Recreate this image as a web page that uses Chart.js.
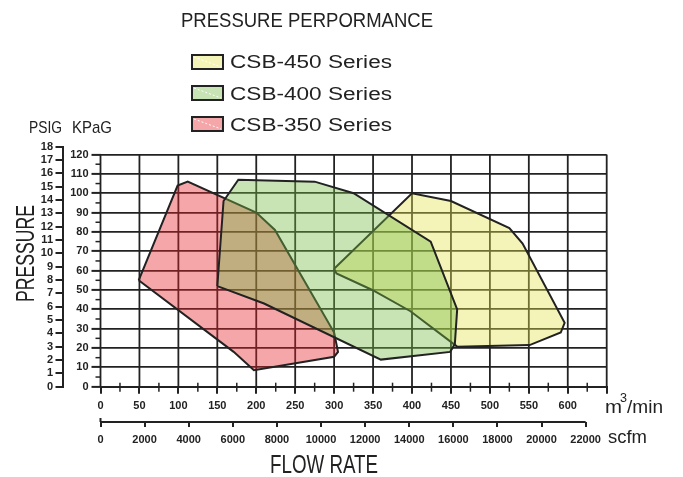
<!DOCTYPE html>
<html>
<head>
<meta charset="utf-8">
<title>Pressure Performance</title>
<script src="https://cdn.jsdelivr.net/npm/chart.js@4.4.0/dist/chart.umd.min.js"></script>
<style>
  html, body { margin: 0; padding: 0; background: #fff; }
  #wrap { width: 683px; height: 477px; }
</style>
</head>
<body>
<div id="wrap"><canvas id="chart" width="683" height="477"></canvas></div>
<script>
// outline corners: flow in m3/min, pressure in kPaG
const seriesNames = ['CSB-450 Series', 'CSB-400 Series', 'CSB-350 Series'];

const csb450Flow = [300, 400, 450, 525, 542, 596, 591, 551, 458, 398, 349, 303, 300];
const csb450Kpa  = [61, 100, 96, 82, 74, 33, 28, 21.5, 20.7, 39, 50, 58.5, 61];

const csb400Flow = [150, 158, 177, 275, 325, 424, 458, 455, 449, 360, 210, 150];
const csb400Kpa  = [52, 96, 107, 106, 100, 75, 40, 22, 18, 14, 43, 52];

const csb350Flow = [49, 99, 112, 200, 224, 300, 305, 300, 197, 171, 49];
const csb350Kpa  = [55, 104, 106, 90, 81, 28, 18, 15.5, 8.5, 18, 55];

const flowTicks = [0, 50, 100, 150, 200, 250, 300, 350, 400, 450, 500, 550, 600];
const scfmTicks = [0, 2000, 4000, 6000, 8000, 10000, 12000, 14000, 16000, 18000, 20000, 22000];
const kpaTicks  = [0, 10, 20, 30, 40, 50, 60, 70, 80, 90, 100, 110, 120];
const psiTicks  = [0, 1, 2, 3, 4, 5, 6, 7, 8, 9, 10, 11, 12, 13, 14, 15, 16, 17, 18];

const FLOW_MAX = 650;
const KPA_PER_PSI = 6.894757;
const SCFM_PER_M3 = 35.3147;
const INK = '#222';
const TICK_FONT = { family: "'Liberation Sans Narrow', 'Liberation Sans', sans-serif", size: 11, weight: 'bold' };
const CAD_FONT = "'Liberation Sans Narrow', 'Liberation Sans', sans-serif";

function poly(label, flow, kpa, color, order) {
    return {
        label: label,
        order: order,
        data: flow.map((f, i) => ({ x: f, y: kpa[i] })),
        fill: 'shape',
        tension: 0,
        backgroundColor: color,
        borderColor: INK,
        borderWidth: 2,
        pointRadius: 0,
        pointHoverRadius: 0
    };
}

// draw text squeezed to a given width (plotter style lettering)
function fitText(ctx, str, left, base, width, size) {
    ctx.save();
    ctx.font = size + 'px ' + CAD_FONT;
    const w = ctx.measureText(str).width;
    ctx.translate(left, base);
    ctx.scale(width / w, 1);
    ctx.textAlign = 'left';
    ctx.textBaseline = 'alphabetic';
    ctx.fillStyle = INK;
    ctx.fillText(str, 0, 0);
    ctx.restore();
}

function seg(ctx, x1, y1, x2, y2) {
    ctx.beginPath();
    ctx.moveTo(x1, y1);
    ctx.lineTo(x2, y2);
    ctx.stroke();
}

const extras = {
    id: 'extras',
    beforeDatasetsDraw(chart) {
        const { ctx, scales } = chart;
        const x = scales.x, y = scales.y, x2 = scales.x2;
        const y0 = y.getPixelForValue(0), yTop = y.getPixelForValue(120);
        const x0 = x.getPixelForValue(0);
        ctx.save();
        ctx.strokeStyle = INK;
        ctx.lineWidth = 1.8;
        // vertical grid stops at the 120 kPa line
        for (let v = 0; v <= FLOW_MAX; v += 50) {
            const px = x.getPixelForValue(v);
            seg(ctx, px, y0, px, yTop);
        }
        // minor ticks
        ctx.lineWidth = 1.5;
        for (let v = 25; v < FLOW_MAX; v += 50) {
            const px = x.getPixelForValue(v);
            seg(ctx, px, y0 - 4, px, y0 + 5);
        }
        for (let v = 5; v < 120; v += 10) {
            const py = y.getPixelForValue(v);
            seg(ctx, x0 - 5, py, x0, py);
        }
        // scfm axis line only runs to 22000
        ctx.lineWidth = 2;
        const sx0 = x2.getPixelForValue(0), sx1 = x2.getPixelForValue(22000);
        seg(ctx, sx0, x2.top, sx1, x2.top);
        seg(ctx, sx0, x2.top - 4, sx0, x2.top);
        ctx.restore();
    },
    afterDraw(chart) {
        const ctx = chart.ctx;
        ctx.save();
        fitText(ctx, 'PRESSURE PERPORMANCE', 181, 27, 252, 20);

        // legend
        const ds = chart.data.datasets;
        const boxY = [55, 86, 117];
        const textBase = [68, 100, 131];
        ds.forEach((d, i) => {
            ctx.fillStyle = '#fff';
            ctx.fillRect(192, boxY[i], 31, 14);
            ctx.fillStyle = d.backgroundColor;
            ctx.fillRect(192, boxY[i], 31, 14);
            ctx.strokeStyle = '#fff';
            ctx.lineWidth = 1;
            ctx.setLineDash([2, 2]);
            seg(ctx, 194, boxY[i] + 2, 221, boxY[i] + 12);
            ctx.setLineDash([]);
            ctx.strokeStyle = INK;
            ctx.lineWidth = 2;
            ctx.strokeRect(192, boxY[i], 31, 14);
            fitText(ctx, d.label, 230, textBase[i], 162, 18);
        });

        // axis names
        fitText(ctx, 'PSIG', 29, 133, 33, 17);
        fitText(ctx, 'KPaG', 72, 133, 40, 17);
        ctx.save();
        ctx.translate(34, 302);
        ctx.rotate(-Math.PI / 2);
        fitText(ctx, 'PRESSURE', 0, 0, 97, 25);
        ctx.restore();
        fitText(ctx, 'FLOW RATE', 270, 473, 108, 26);
        fitText(ctx, 'm', 605, 413, 17, 19);
        fitText(ctx, '3', 620, 402, 7, 12);
        fitText(ctx, '/min', 627, 413, 36, 19);
        fitText(ctx, 'scfm', 608, 443, 39, 18);
        ctx.restore();
    }
};

new Chart(document.getElementById('chart'), {
    type: 'line',
    data: {
        datasets: [
            poly(seriesNames[0], csb450Flow, csb450Kpa, 'rgba(228,228,78,0.4)', 3),
            poly(seriesNames[1], csb400Flow, csb400Kpa, 'rgba(117,187,67,0.4)', 1),
            poly(seriesNames[2], csb350Flow, csb350Kpa, 'rgba(228,33,38,0.4)', 2)
        ]
    },
    options: {
        responsive: false,
        animation: false,
        events: [],
        layout: { padding: { top: 146.6, right: 76.3, left: 0, bottom: 0 } },
        plugins: {
            legend: { display: false },
            tooltip: { enabled: false },
            title: { display: false }
        },
        scales: {
            x: {
                type: 'linear', position: 'bottom', weight: 0,
                min: 0, max: FLOW_MAX,
                afterBuildTicks: s => { s.ticks = flowTicks.concat([FLOW_MAX]).map(v => ({ value: v })); },
                afterFit: s => { s.height = 35.3; },
                ticks: {
                    autoSkip: false, maxRotation: 0, padding: 6, color: INK, font: TICK_FONT,
                    callback: v => flowTicks.includes(v) ? String(v) : ''
                },
                grid: { drawOnChartArea: false, tickLength: 7, tickColor: INK, lineWidth: 2 },
                border: { display: true, color: INK, width: 2 }
            },
            x2: {
                type: 'linear', position: 'bottom', weight: 1,
                min: 0, max: FLOW_MAX * SCFM_PER_M3,
                afterBuildTicks: s => { s.ticks = scfmTicks.map(v => ({ value: v })); },
                afterFit: s => { s.height = 55; },
                ticks: {
                    autoSkip: false, maxRotation: 0, padding: 6, color: INK, font: TICK_FONT,
                    callback: v => String(v)
                },
                grid: { drawOnChartArea: false, tickLength: 5, tickColor: INK, lineWidth: 2 },
                border: { display: false }
            },
            y: {
                type: 'linear', position: 'left', weight: 0,
                min: 0, max: 18 * KPA_PER_PSI,
                afterBuildTicks: s => { s.ticks = kpaTicks.map(v => ({ value: v })); },
                afterFit: s => { s.width = 38; },
                ticks: { autoSkip: false, padding: 3, color: INK, font: TICK_FONT, callback: v => String(v) },
                grid: { color: INK, lineWidth: 1.8, tickLength: 9, tickColor: INK, tickWidth: 2 },
                border: { display: false }
            },
            y2: {
                type: 'linear', position: 'left', weight: 1,
                min: 0, max: 18,
                afterBuildTicks: s => { s.ticks = psiTicks.map(v => ({ value: v })); },
                afterFit: s => { s.width = 62.5; },
                ticks: { autoSkip: false, padding: 2.5, color: INK, font: TICK_FONT, callback: v => String(v) },
                grid: { drawOnChartArea: false, tickLength: 7, tickColor: INK, lineWidth: 2 },
                border: { display: true, color: INK, width: 2 }
            }
        }
    },
    plugins: [extras]
});
</script>
</body>
</html>
